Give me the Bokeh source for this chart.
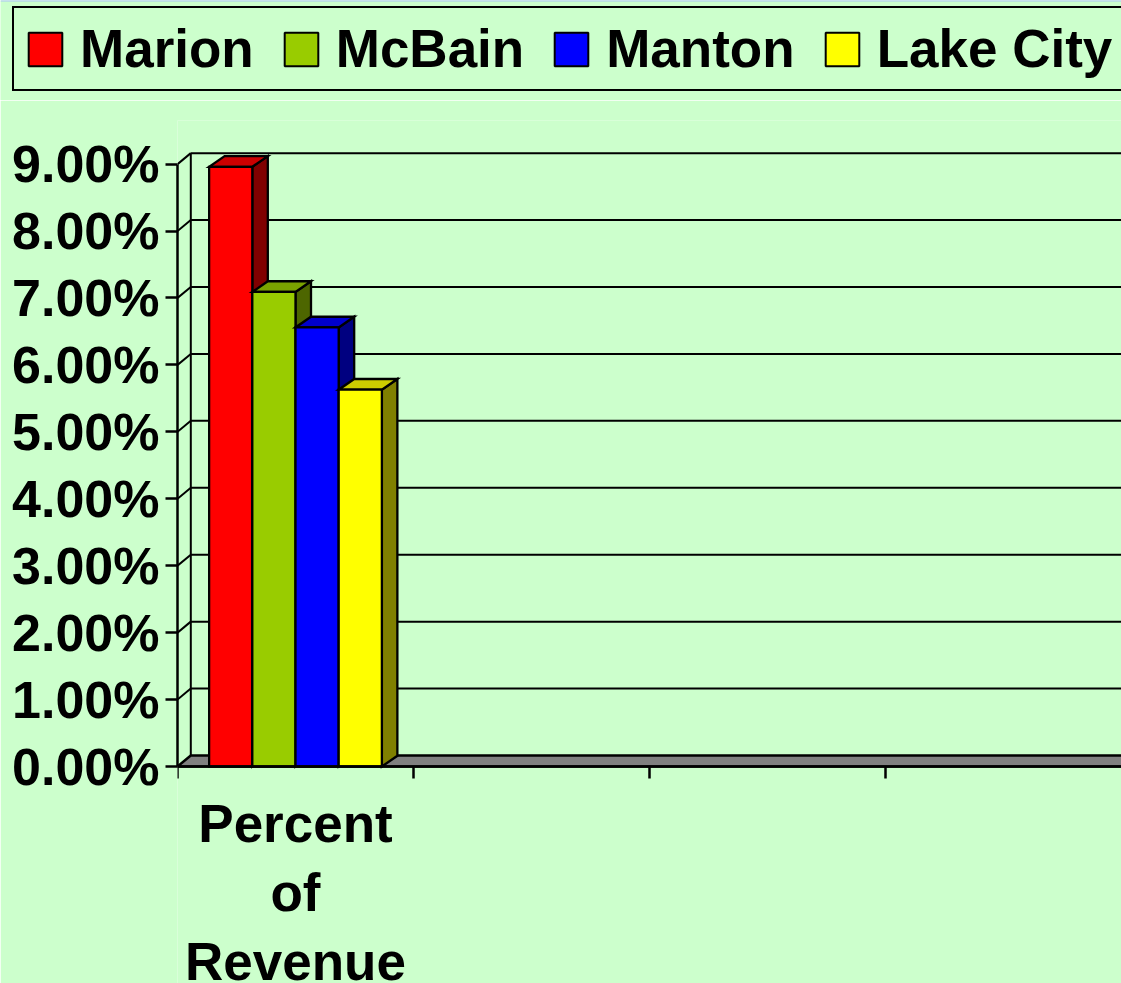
from bokeh.plotting import figure
from bokeh.models import (Range1d, FixedTicker, NumeralTickFormatter, Legend, LegendItem,
                          ColumnDataSource, Span)
from bokeh.core.properties import value
from bokeh.embed import file_html
from bokeh.resources import INLINE

# ---------------- data ----------------
series = ["Marion", "McBain", "Manton", "Lake City"]
values = [0.0896, 0.0709, 0.0656, 0.0563]
front_colors = ["#FF0000", "#99CC00", "#0000FF", "#FFFF00"]
top_colors = ["#CC0000", "#7AA300", "#0000CC", "#CCCC00"]
side_colors = ["#800000", "#4D6600", "#000080", "#808000"]
categories = ["Percent\nof\nRevenue", "", "", ""]
y_ticks = [0.00, 0.01, 0.02, 0.03, 0.04, 0.05, 0.06, 0.07, 0.08, 0.09]

# ---------------- layout constants ----------------
BG = "#CCFFCC"
W, H = 1121, 983
LEG_FIG_H = 100     # height of the legend strip
LEFT = 177          # x of front value axis
TOP_PANEL = 20      # space above main frame
AX_Y = 766          # y (page) of zero on the front plane
PX_X = 236.0        # px per category
PX_Y = 6693.0       # px per 1.0 (100%)
FONT = "Liberation Sans"

n_cat = len(categories)
y_max = y_ticks[-1]
main_h = H - LEG_FIG_H
frame_top = LEG_FIG_H + TOP_PANEL

# depth offsets (data units)
dxw, dyw = 13.3 / PX_X, 11.0 / PX_Y      # walls / floor
dxb, dyb = 15.5 / PX_X, 10.7 / PX_Y      # bars
bar_w = 0.183
x_start = 0.5 - bar_w * len(series) / 2

p = figure(width=W, height=main_h, output_backend="svg", toolbar_location=None,
           x_range=Range1d(0, n_cat),
           y_range=Range1d(-(H - AX_Y) / PX_Y, (AX_Y - frame_top) / PX_Y),
           x_axis_location="above",
           min_border_left=LEFT, min_border_right=0, min_border_top=TOP_PANEL,
           min_border_bottom=0,
           background_fill_color=BG, border_fill_color=BG, outline_line_color=None)
p.grid.visible = False

# ---------------- walls ----------------
grid_t = y_ticks[1:]
p.segment(x0=[dxw] * len(grid_t), y0=[t + dyw for t in grid_t],
          x1=[n_cat + 1] * len(grid_t), y1=[t + dyw for t in grid_t],
          line_color="black", line_width=2)
p.segment(x0=[0] * len(grid_t), y0=grid_t,
          x1=[dxw] * len(grid_t), y1=[t + dyw for t in grid_t],
          line_color="black", line_width=2)
p.segment(x0=[dxw], y0=[dyw], x1=[dxw], y1=[y_max + dyw],
          line_color="black", line_width=2)

# floor
p.patch([0, n_cat + 1, n_cat + 1 + dxw, dxw], [0, 0, dyw, dyw],
        fill_color="#808080", line_color="black", line_width=2.5)

# ---------------- 3D bars ----------------
xs, ys, fills = [], [], []
for i, v in enumerate(values):
    x0 = x_start + i * bar_w
    x1 = x0 + bar_w
    xs.append([x1, x1 + dxb, x1 + dxb, x1]); ys.append([0, dyb, v + dyb, v]); fills.append(side_colors[i])
    xs.append([x0, x1, x1 + dxb, x0 + dxb]); ys.append([v, v, v + dyb, v + dyb]); fills.append(top_colors[i])
    xs.append([x0, x1, x1, x0]); ys.append([0, 0, v, v]); fills.append(front_colors[i])
src = ColumnDataSource(dict(xs=xs, ys=ys, fill=fills))
bars = p.patches("xs", "ys", source=src, fill_color="fill", line_color="black",
                 line_width=2.3, line_join="miter")

# ---------------- axes ----------------
ya = p.yaxis[0]
ya.ticker = FixedTicker(ticks=y_ticks, minor_ticks=[])
ya.formatter = NumeralTickFormatter(format="0.00%")
ya.bounds = (0, y_max)
ya.axis_line_width = 2.5
ya.major_tick_line_width = 2.5
ya.major_tick_out = 12
ya.major_tick_in = 0
ya.major_label_standoff = 6
ya.major_label_text_font = FONT
ya.major_label_text_font_style = "bold"
ya.major_label_text_font_size = "52px"
ya.major_label_text_color = "black"

xa = p.xaxis[0]
xa.fixed_location = 0
xa.ticker = FixedTicker(ticks=list(range(n_cat)), minor_ticks=[])
xa.major_label_overrides = {i: "" for i in range(n_cat)}
xa.axis_line_width = 2.5
xa.major_tick_line_width = 2.5
xa.major_tick_out = 0
xa.major_tick_in = 12

# category labels (below the category axis)
cat_src = ColumnDataSource(dict(x=[i + 0.5 for i in range(n_cat)], y=[0] * n_cat, text=categories))
p.text(x="x", y="y", text="text", source=cat_src, text_align="center", text_baseline="top",
       y_offset=27, text_font=value(FONT), text_font_style="bold",
       text_font_size=value("53px"), text_line_height=1.17, text_color="black")

# ---------------- legend strip ----------------
pl = figure(width=W, height=LEG_FIG_H, output_backend="svg", toolbar_location=None,
            x_range=Range1d(10, 11), y_range=Range1d(10, 11),
            x_axis_type=None, y_axis_type=None,
            min_border_left=0, min_border_right=0, min_border_top=0, min_border_bottom=0,
            background_fill_color=BG, border_fill_color=BG, outline_line_color=None)
pl.grid.visible = False
pl.add_layout(Span(location=11, dimension="width", line_color="#A9C4F5", line_width=2))
leg_r = pl.patches("xs", "ys", source=src, fill_color="fill", line_color="black", line_width=2)
items = [LegendItem(label=s, renderers=[leg_r], index=3 * i + 2) for i, s in enumerate(series)]
legend = Legend(items=items, orientation="horizontal", location=(12, LEG_FIG_H - 91),
                glyph_width=42, glyph_height=42, label_standoff=14, spacing=26,
                padding=10, margin=0, border_line_color="black", border_line_width=2,
                border_line_alpha=1.0,
                background_fill_color=BG, background_fill_alpha=1.0,
                label_text_font=FONT, label_text_font_style="bold",
                label_text_font_size="53px", label_text_color="black")
pl.add_layout(legend)

open("out.html", "w").write(file_html([pl, p], INLINE))
